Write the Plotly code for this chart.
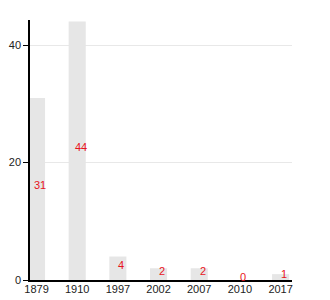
import plotly.graph_objects as go

years = ["1879", "1910", "1997", "2002", "2007", "2010", "2017"]
values = [31, 44, 4, 2, 2, 0, 1]
yticks = [0, 20, 40]

fig = go.Figure()
fig.add_trace(go.Bar(
    x=years, y=values, width=0.42,
    marker=dict(color="#e6e6e6", line=dict(width=0)),
    hoverinfo="skip",
))

annotations = [
    dict(x=i, y=v / 2, text=str(v), showarrow=False, xref="x", yref="y",
         xshift=3.5, yshift=3.5,
         font=dict(color="#e8141c", size=11, family="Liberation Sans, Arial, sans-serif"))
    for i, v in enumerate(values)
]

fig.update_layout(
    width=330, height=300,
    margin=dict(l=30, r=38, t=20, b=20),
    paper_bgcolor="white", plot_bgcolor="white",
    showlegend=False,
    font=dict(family="Liberation Sans, Arial, sans-serif", size=11, color="#222"),
    annotations=annotations,
    bargap=0.5,
)
fig.update_xaxes(
    type="category", range=[-0.16, 6.28], automargin=False,
    showline=True, linecolor="black", linewidth=1.5,
    showgrid=False, ticks="", ticklabelstandoff=-2,
    tickfont=dict(size=11, color="#222"),
)
fig.update_yaxes(
    range=[0, 44.26], tickvals=yticks, automargin=False,
    showline=True, linecolor="black", linewidth=1.5,
    ticks="outside", ticklen=5, tickcolor="black",
    showgrid=True, gridcolor="#e8e8e8", gridwidth=1,
    zeroline=False, tickfont=dict(size=11, color="#222"),
)

fig.write_html("out.html")
